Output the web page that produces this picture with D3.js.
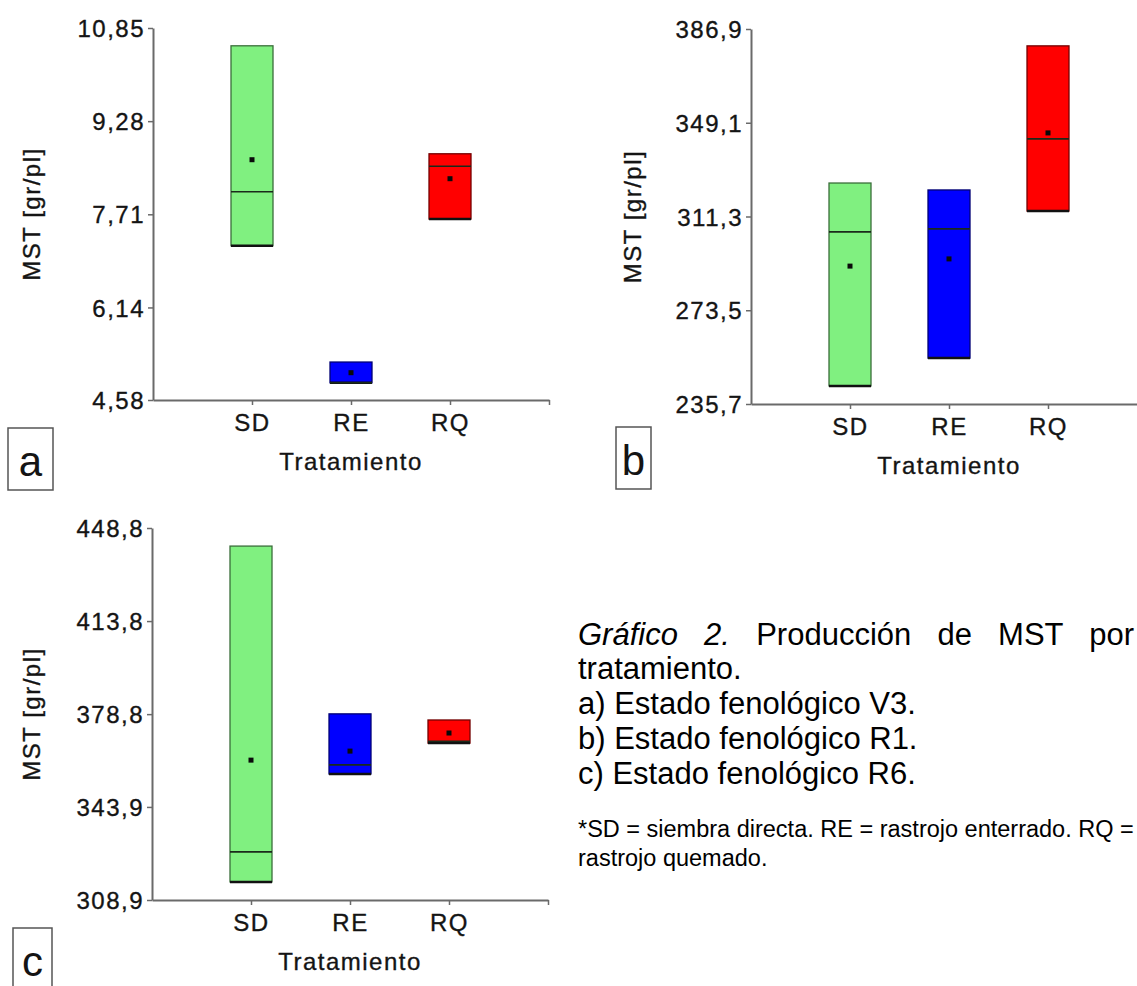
<!DOCTYPE html>
<html>
<head>
<meta charset="utf-8">
<script src="https://cdn.jsdelivr.net/npm/d3@7"></script>
<style>
  html, body { margin: 0; padding: 0; background: #fff; overflow: hidden; }
  svg { display: block; font-family: "Liberation Sans", Arial, sans-serif; }
</style>
</head>
<body>
<svg id="fig" width="1137" height="986"></svg>
<script>
// Treatments and their fill colours
const treatments = ["SD", "RE", "RQ"];
const fills = ["#80f080", "#0000ff", "#ff0000"];

// a) V3 — MST [gr/pl]
const ticksA  = ["4,58", "6,14", "7,71", "9,28", "10,85"];
const upperA  = [10.55, 5.22, 8.73];
const lowerA  = [7.18, 4.87, 7.63];
const medianA = [8.09, 4.87, 8.52];
const meanA   = [8.63, 5.04, 8.31];

// b) R1
const ticksB  = ["235,7", "273,5", "311,3", "349,1", "386,9"];
const upperB  = [324.8, 322.0, 380.1];
const lowerB  = [243.0, 254.2, 313.5];
const medianB = [305.1, 306.3, 342.6];
const meanB   = [291.3, 294.2, 345.0];

// c) R6
const ticksC  = ["308,9", "343,9", "378,8", "413,8", "448,8"];
const upperC  = [442.0, 378.9, 376.6];
const lowerC  = [315.7, 356.3, 367.9];
const medianC = [327.0, 359.7, 368.6];
const meanC   = [361.5, 364.9, 371.7];

// Caption
const captionTitle = "Gráfico 2.";
const captionLines = ["Producción de MST por", "tratamiento.",
  "a) Estado fenológico V3.", "b) Estado fenológico R1.", "c) Estado fenológico R6."];
const footnoteLines = ["*SD = siembra directa. RE = rastrojo enterrado. RQ =", "rastrojo quemado."];

const svg = d3.select("#fig");
svg.append("rect").attr("width", 1137).attr("height", 986).attr("fill", "#fff");

const AXIS = "#6a6a6a", INK = "#141414";
const parseLabel = s => +s.replace(",", ".");

// chart lettering: slightly heavy, widely tracked
function letter(sel, size) {
  return sel.attr("fill", INK).attr("font-size", size).attr("letter-spacing", 1.5)
    .attr("stroke", INK).attr("stroke-width", 0.35)
    .attr("font-family", "Liberation Sans, Arial, sans-serif");
}

function panel(cfg) {
  const vals = cfg.ticks.map(parseLabel);
  const y = d3.scaleLinear().domain([vals[0], vals[vals.length - 1]]).range([cfg.bottom, cfg.top]);
  const x = d3.scaleLinear().domain([0, 4]).range([cfg.left, cfg.right]);
  const g = svg.append("g");

  // y axis
  const ya = g.append("g").attr("transform", `translate(${cfg.left},0)`)
    .call(d3.axisLeft(y).tickValues(vals).tickFormat((d, i) => cfg.ticks[i]).tickSize(5).tickSizeOuter(0));
  // x axis
  const xa = g.append("g").attr("transform", `translate(0,${cfg.bottom})`)
    .call(d3.axisBottom(x).tickValues([1, 2, 3, 4]).tickFormat(d => treatments[d - 1] || "").tickSize(5).tickSizeOuter(0));
  [ya, xa].forEach(a => {
    a.select(".domain").attr("stroke", AXIS).attr("stroke-width", 2);
    a.selectAll(".tick line").attr("stroke", AXIS).attr("stroke-width", 1.5);
    letter(a.selectAll("text"), 24);
  });
  ya.selectAll(".tick text").attr("x", -8).attr("dy", "0.36em");
  xa.selectAll(".tick text").attr("y", 14).attr("dy", "0.71em");

  // boxes: upper/lower edges, median line, mean marker
  const half = 21;
  treatments.forEach((t, i) => {
    const cx = x(i + 1);
    const fill = d3.color(fills[i]);
    g.append("rect")
      .attr("x", cx - half).attr("width", 2 * half)
      .attr("y", y(cfg.upper[i])).attr("height", y(cfg.lower[i]) - y(cfg.upper[i]))
      .attr("fill", fills[i]).attr("stroke", fill.darker(2.2)).attr("stroke-width", 1.3);
    g.append("line").attr("x1", cx - half).attr("x2", cx + half)
      .attr("y1", y(cfg.lower[i])).attr("y2", y(cfg.lower[i]))
      .attr("stroke", "#111").attr("stroke-width", 2.5);
    g.append("line").attr("x1", cx - half).attr("x2", cx + half)
      .attr("y1", y(cfg.median[i])).attr("y2", y(cfg.median[i]))
      .attr("stroke", "#1a2a1a").attr("stroke-width", 1.6);
    g.append("rect").attr("x", cx - 2.5).attr("y", y(cfg.mean[i]) - 2.5)
      .attr("width", 5).attr("height", 5).attr("fill", "#0a0a0a");
  });

  // axis titles
  letter(g.append("text"), 24)
    .attr("transform", `translate(${cfg.yTitleX},${(cfg.top + cfg.bottom) / 2}) rotate(-90)`)
    .attr("text-anchor", "middle").text("MST [gr/pl]");
  letter(g.append("text"), 24)
    .attr("x", x(2)).attr("y", cfg.bottom + 70)
    .attr("text-anchor", "middle").text("Tratamiento");

  // panel letter in a framed box
  const b = cfg.tag;
  g.append("rect").attr("x", b.x).attr("y", b.y).attr("width", b.w).attr("height", 62)
    .attr("fill", "none").attr("stroke", "#555").attr("stroke-width", 1.5);
  g.append("text").attr("x", b.x + b.w / 2).attr("y", b.y + 48)
    .attr("text-anchor", "middle").attr("font-size", 42).attr("fill", INK).text(b.letter);
}

panel({ ticks: ticksA, upper: upperA, lower: lowerA, median: medianA, mean: meanA,
        left: 153, right: 549, top: 28, bottom: 400, yTitleX: 40,
        tag: { x: 8, y: 428, w: 45, letter: "a" } });
panel({ ticks: ticksB, upper: upperB, lower: lowerB, median: medianB, mean: meanB,
        left: 751, right: 1147, top: 29, bottom: 404, yTitleX: 641,
        tag: { x: 616, y: 427, w: 35, letter: "b" } });
panel({ ticks: ticksC, upper: upperC, lower: lowerC, median: medianC, mean: meanC,
        left: 152, right: 548, top: 528, bottom: 900, yTitleX: 40,
        tag: { x: 13, y: 928, w: 39, letter: "c" } });

// Caption block
const capX = 578, capRight = 1134, capSize = 31, footSize = 25;
const cap = svg.append("g").attr("fill", "#000").attr("font-family", "Liberation Sans, Arial, sans-serif");
const first = cap.append("text").attr("x", capX).attr("y", 645).attr("font-size", capSize);
first.append("tspan").attr("font-style", "italic").text(captionTitle);
first.append("tspan").text(" " + captionLines[0]);
// justify the first line across the column width
{
  const nGaps = (captionTitle + " " + captionLines[0]).split(" ").length - 1;
  const natural = first.node().getComputedTextLength();
  first.attr("word-spacing", (capRight - capX - natural) / nGaps);
}
captionLines.slice(1).forEach((s, i) => {
  cap.append("text").attr("x", capX).attr("y", 679 + i * 35).attr("font-size", capSize).text(s);
});
// footnote: one size for both lines, reduced so the longer line fits the column
const foot = footnoteLines.map((s, i) =>
  cap.append("text").attr("x", capX).attr("y", 837 + i * 29).attr("font-size", footSize).text(s));
const widest = d3.max(foot, t => t.node().getComputedTextLength());
const fitSize = Math.min(footSize, footSize * (capRight - capX) / widest);
foot.forEach(t => t.attr("font-size", fitSize));
</script>
</body>
</html>
